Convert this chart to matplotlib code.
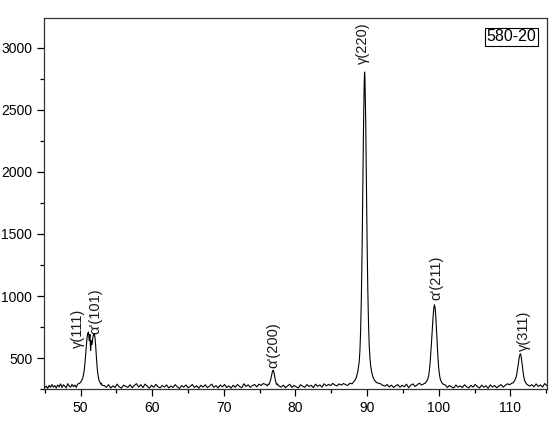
import matplotlib
matplotlib.use('Agg')
import matplotlib.pyplot as plt
from matplotlib.ticker import MultipleLocator

plt.rcParams['font.family'] = ['Liberation Sans', 'DejaVu Sans']

# XRD pattern of sample 580-20
two_theta = [
    # background 45-50
    45.0, 45.2, 45.4, 45.6, 45.8, 46.0, 46.2, 46.4, 46.6, 46.8,
    47.0, 47.2, 47.4, 47.6, 47.8, 48.0, 48.2, 48.4, 48.6, 48.8,
    49.0, 49.2, 49.4, 49.6, 49.8, 50.0,
    # gamma(111) + alpha'(101)
    50.1, 50.2, 50.3, 50.4, 50.5, 50.6, 50.7, 50.8, 50.9, 51.0,
    51.1, 51.2, 51.3, 51.4, 51.5, 51.6, 51.7, 51.8, 51.9, 52.0,
    52.1, 52.2, 52.3, 52.4, 52.5, 52.6, 52.7, 52.8, 52.9, 53.0,
    # background
    53.3, 53.6, 53.9, 54.2, 54.5, 54.8, 55.1, 55.4, 55.7, 56.0,
    56.3, 56.6, 56.9, 57.2, 57.5, 57.8, 58.1, 58.4, 58.7, 59.0,
    59.3, 59.6, 59.9, 60.2, 60.5, 60.8, 61.1, 61.4, 61.7, 62.0,
    62.3, 62.6, 62.9, 63.2, 63.5, 63.8, 64.1, 64.4, 64.7, 65.0,
    65.3, 65.6, 65.9, 66.2, 66.5, 66.8, 67.1, 67.4, 67.7, 68.0,
    68.3, 68.6, 68.9, 69.2, 69.5, 69.8, 70.1, 70.4, 70.7, 71.0,
    71.3, 71.6, 71.9, 72.2, 72.5, 72.8, 73.1, 73.4, 73.7, 74.0,
    74.3, 74.6, 74.9, 75.2, 75.5, 75.8,
    # alpha'(200)
    76.0, 76.1, 76.2, 76.3, 76.4, 76.5, 76.6, 76.7, 76.8, 76.9,
    77.0, 77.1, 77.2, 77.3, 77.4, 77.5, 77.6, 77.8,
    # background
    78.0, 78.3, 78.6, 78.9, 79.2, 79.5, 79.8, 80.1, 80.4, 80.7,
    81.0, 81.3, 81.6, 81.9, 82.2, 82.5, 82.8, 83.1, 83.4, 83.7,
    84.0, 84.3, 84.6, 84.9, 85.2, 85.5, 85.8, 86.1, 86.4, 86.7,
    87.0, 87.3, 87.6, 87.9,
    # gamma(220)
    88.0, 88.3, 88.5, 88.7, 88.9, 89.0, 89.1, 89.2, 89.3, 89.4,
    89.5, 89.6, 89.65, 89.7, 89.8, 89.9, 90.0, 90.1, 90.2, 90.3,
    90.4, 90.5, 90.6, 90.8, 91.0, 91.2, 91.4, 91.6,
    # background
    91.9, 92.2, 92.5, 92.8, 93.1, 93.4, 93.7, 94.0, 94.3, 94.6,
    94.9, 95.2, 95.5, 95.8, 96.1, 96.4, 96.7, 97.0, 97.3, 97.6,
    97.9,
    # alpha'(211)
    98.1, 98.3, 98.5, 98.6, 98.7, 98.8, 98.9, 99.0, 99.1, 99.2,
    99.3, 99.4, 99.5, 99.6, 99.7, 99.8, 99.9, 100.0, 100.1, 100.2,
    100.4, 100.6,
    # background
    100.9, 101.2, 101.5, 101.8, 102.1, 102.4, 102.7, 103.0, 103.3, 103.6,
    103.9, 104.2, 104.5, 104.8, 105.1, 105.4, 105.7, 106.0, 106.3, 106.6,
    106.9, 107.2, 107.5, 107.8, 108.1, 108.4, 108.7, 109.0, 109.3, 109.6,
    109.9, 110.2,
    # gamma(311)
    110.4, 110.6, 110.8, 110.9, 111.0, 111.1, 111.2, 111.3, 111.4, 111.5,
    111.6, 111.7, 111.8, 111.9, 112.0, 112.2, 112.4,
    # background
    112.7, 113.0, 113.3, 113.6, 113.9, 114.2, 114.5, 114.8, 115.1,
]

intensity = [
    262, 274, 255, 280, 264, 287, 266, 278, 258, 283,
    268, 292, 263, 285, 272, 260, 294, 275, 265, 288,
    270, 283, 264, 291, 295, 305,
    315, 325, 340, 365, 400, 455, 525, 600, 665, 700,
    710, 640, 690, 560, 640, 610, 660, 690, 695, 670,
    600, 510, 430, 375, 340, 315, 305, 290, 298, 280,
    278, 264, 286, 259, 276, 263, 290, 268, 258, 282,
    272, 264, 285, 261, 279, 294, 266, 286, 262, 290,
    273, 257, 281, 264, 288, 269, 260, 279, 266, 284,
    259, 275, 263, 286, 268, 256, 278, 265, 283, 261,
    272, 287, 263, 277, 257, 281, 266, 285, 262, 274,
    290, 264, 278, 259, 283, 268, 287, 263, 276, 258,
    281, 265, 288, 270, 261, 293, 271, 284, 264, 279,
    287, 268, 290, 279, 295, 288,
    282, 276, 290, 288, 300, 318, 345, 372, 395, 402,
    385, 352, 318, 300, 286, 292, 278, 272,
    266, 282, 261, 276, 289, 263, 280, 268, 259, 285,
    274, 264, 287, 270, 281, 262, 290, 272, 284, 266,
    293, 275, 288, 278, 296, 283, 276, 292, 282, 295,
    286, 279, 298, 292,
    300, 320, 345, 390, 470, 560, 720, 980, 1350, 1850,
    2350, 2720, 2805, 2760, 2450, 1950, 1450, 1050, 780, 600,
    500, 440, 400, 350, 325, 310, 300, 298,
    292, 280, 274, 287, 268, 282, 263, 277, 286, 265,
    280, 269, 290, 261, 282, 292, 271, 284, 298, 283,
    292,
    298, 310, 335, 360, 400, 460, 540, 630, 730, 820,
    890, 930, 905, 830, 720, 600, 500, 420, 370, 335,
    305, 290,
    284, 263, 279, 268, 259, 283, 266, 276, 262, 285,
    269, 260, 280, 266, 288, 270, 259, 282, 265, 277,
    257, 284, 267, 279, 261, 275, 286, 266, 280, 293,
    285, 298,
    300, 318, 345, 370, 405, 445, 490, 520, 535, 515,
    475, 425, 380, 345, 318, 296, 285,
    274, 286, 268, 292, 272, 284, 266, 295, 278,
]

# peak labels
peak_labels = ["γ(111)", "α'(101)", "α'(200)", "γ(220)", "α'(211)", "γ(311)"]
label_x = [49.6, 52.0, 76.9, 89.4, 99.7, 111.9]
label_y = [585, 690, 420, 2870, 965, 555]

sample_name = "580-20"

fig = plt.figure(figsize=(5.58, 4.29), dpi=100)
ax = fig.add_axes([0.079, 0.093, 0.901, 0.865])

ax.plot(two_theta, intensity, color='black', linewidth=0.8)

for lab, lx, ly in zip(peak_labels, label_x, label_y):
    ax.text(lx, ly, lab, rotation=90, ha='center', va='bottom',
            fontsize=10.5, color='#1a1a1a')

ax.text(0.93, 0.949, sample_name, transform=ax.transAxes,
        ha='center', va='center', fontsize=11.5,
        bbox=dict(boxstyle='square,pad=0.12', fc='white', ec='black', lw=0.8))

ax.set_xlim(44.9, 115.1)
ax.set_ylim(250, 3240)
ax.xaxis.set_major_locator(MultipleLocator(10))
ax.xaxis.set_minor_locator(MultipleLocator(5))
ax.yaxis.set_major_locator(MultipleLocator(500))
ax.yaxis.set_minor_locator(MultipleLocator(250))
ax.tick_params(which='major', direction='out', length=5, width=0.9,
               labelsize=10, top=False, right=False)
ax.tick_params(which='minor', direction='out', length=3, width=0.9,
               top=False, right=False)
for sp in ax.spines.values():
    sp.set_linewidth(0.9)
    sp.set_color('#333333')

fig.savefig('out.png', dpi=100)
